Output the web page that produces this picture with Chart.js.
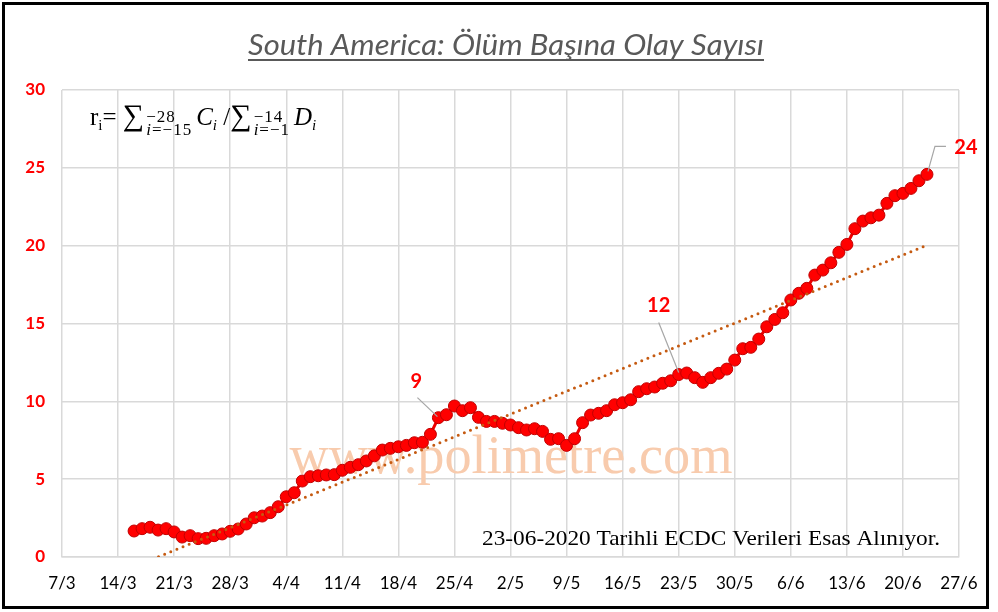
<!DOCTYPE html>
<html>
<head>
<meta charset="utf-8">
<script src="https://cdn.jsdelivr.net/npm/chart.js@4.4.1/dist/chart.umd.min.js"></script>
<style>
html,body{margin:0;padding:0;background:#fff;}
#wrap{position:relative;width:998px;height:612px;overflow:hidden;}
canvas{display:block;}
#formula{position:absolute;left:90px;top:99px;font-family:"Liberation Serif",serif;font-size:25px;line-height:32px;color:#000;white-space:nowrap;}
#formula sub{font-size:15px;vertical-align:-5px;line-height:0;}
#formula .sum{font-size:30px;}
#formula .lim{display:inline-block;vertical-align:-10px;font-size:17px;line-height:13px;margin:0 4px 0 2px;letter-spacing:1px;}
#formula .lim span{display:block;}
</style>
</head>
<body>
<div id="wrap">
<canvas id="c" width="998" height="612"></canvas>
<div id="formula">r<sub>i</sub>= <span class="sum">∑</span><span class="lim"><span>−28</span><span><i>i</i>=−15</span></span><i>C<sub>i</sub></i> /<span class="sum">∑</span><span class="lim"><span>−14</span><span><i>i</i>=−1</span></span><i>D<sub>i</sub></i></div>
</div>
<script>
// ---- data ----
const TITLE = 'South America: Ölüm Başına Olay Sayısı';
const FOOTER = '23-06-2020 Tarihli ECDC Verileri Esas Alınıyor.';
const WATERMARK = 'www.polimetre.com';
const xTickLabels = ['7/3','14/3','21/3','28/3','4/4','11/4','18/4','25/4','2/5','9/5','16/5','23/5','30/5','6/6','13/6','20/6','27/6'];
const yTicks = [0,5,10,15,20,25,30];
const firstDay = 9; // 16/3 counted in days from 7/3
const values = [1.67,1.82,1.91,1.73,1.82,1.61,1.28,1.37,1.18,1.20,
  1.37,1.48,1.65,1.80,2.12,2.52,2.63,2.85,3.23,3.87,
  4.13,4.88,5.16,5.22,5.27,5.29,5.57,5.76,5.93,6.17,
  6.50,6.87,6.98,7.08,7.17,7.34,7.37,7.88,8.95,9.14,
  9.70,9.40,9.59,8.97,8.71,8.71,8.59,8.48,8.31,8.16,
  8.24,8.07,7.56,7.60,7.17,7.60,8.63,9.12,9.23,9.40,
  9.78,9.91,10.10,10.62,10.81,10.92,11.16,11.32,11.72,11.82,
  11.52,11.22,11.52,11.80,12.07,12.65,13.38,13.47,14.00,14.79,
  15.26,15.69,16.51,16.94,17.26,18.11,18.43,18.90,19.57,20.08,
  21.09,21.58,21.79,21.96,22.72,23.21,23.36,23.68,24.17,24.58];
const trendDays = [9, 108];
const trendValues = [-0.62, 20.03];
const labelIndex = [38, 68, 99];
const labelText = ['9', '12', '24'];

// ---- build ----
const points = values.map((v, i) => ({x: firstDay + i, y: v}));
const trend = trendDays.map((d, i) => ({x: d, y: trendValues[i]}));

const labelStyle = [
  {dx: -22, dy: -36, line: [[-21, -20], [-1, -1]]},
  {dx: -20, dy: -69, line: [[-20, -52], [0, -2]]},
  {dx: 39, dy: -27, line: [[1, -3], [8, -28], [19, -28]]}
];

function fitText(ctx, text, x, y, width, align) {
  const w = ctx.measureText(text).width;
  const sx = width / w;
  ctx.save();
  ctx.translate(x, y);
  ctx.scale(sx, 1);
  ctx.textAlign = align;
  ctx.fillText(text, 0, 0);
  ctx.restore();
}

const decor = {
  id: 'decor',
  beforeDatasetsDraw(chart) {
    const ctx = chart.ctx;
    ctx.save();
    ctx.fillStyle = '#F8CBAD';
    ctx.font = '54px "Liberation Serif"';
    ctx.textBaseline = 'alphabetic';
    fitText(ctx, WATERMARK, 511, 473, 443, 'center');
    ctx.restore();
  },
  afterDatasetsDraw(chart) {
    const ctx = chart.ctx;
    const meta = chart.getDatasetMeta(1);
    ctx.save();
    labelIndex.forEach((idx, k) => {
      const p = meta.data[idx];
      const st = labelStyle[k];
      ctx.strokeStyle = '#A6A6A6';
      ctx.lineWidth = 1.2;
      ctx.beginPath();
      st.line.forEach((o, j) => {
        if (j === 0) ctx.moveTo(p.x + o[0], p.y + o[1]);
        else ctx.lineTo(p.x + o[0], p.y + o[1]);
      });
      ctx.stroke();
      ctx.fillStyle = '#FF0000';
      ctx.font = 'bold 20px Lato';
      ctx.textAlign = 'center';
      ctx.textBaseline = 'middle';
      ctx.fillText(labelText[k], p.x + st.dx, p.y + st.dy);
    });
    ctx.restore();
  },
  afterDraw(chart) {
    const ctx = chart.ctx;
    ctx.save();
    // title
    ctx.fillStyle = '#595959';
    ctx.font = 'italic 28px Lato';
    ctx.textBaseline = 'alphabetic';
    fitText(ctx, TITLE, 506, 55, 516, 'center');
    ctx.fillRect(248, 59, 516, 2);
    // footer
    ctx.fillStyle = '#000';
    ctx.font = '22px "Liberation Serif"';
    fitText(ctx, FOOTER, 940, 545, 458, 'right');
    // frame
    ctx.strokeStyle = '#000';
    ctx.lineWidth = 3;
    ctx.strokeRect(3.5, 3.5, 984, 604);
    ctx.restore();
  }
};

new Chart(document.getElementById('c'), {
  type: 'line',
  data: {
    datasets: [
      {
        label: 'Trend',
        data: trend,
        borderColor: '#C55A11',
        borderWidth: 3,
        borderDash: [0, 6.6],
        borderCapStyle: 'round',
        pointRadius: 0,
        fill: false,
        order: 0
      },
      {
        label: 'South America',
        data: points,
        borderColor: '#EE0000',
        borderWidth: 3,
        pointRadius: 6,
        pointBackgroundColor: '#FF0000',
        pointBorderColor: '#C00000',
        pointBorderWidth: 1,
        fill: false,
        tension: 0,
        order: 1
      }
    ]
  },
  options: {
    responsive: false,
    animation: false,
    devicePixelRatio: 1,
    layout: {padding: {top: 90, right: 39, bottom: 0, left: 0}},
    plugins: {legend: {display: false}, tooltip: {enabled: false}},
    scales: {
      x: {
        type: 'linear',
        min: 0, max: 112,
        afterFit(s) { s.height = 55; },
        ticks: {
          stepSize: 7, maxTicksLimit: 20, autoSkip: false, maxRotation: 0,
          padding: 16, color: '#000',
          font: {family: 'Lato', size: 17},
          callback: (v) => xTickLabels[Math.round(v / 7)]
        },
        grid: {color: '#D9D9D9', lineWidth: 1.5, drawTicks: false},
        border: {display: true, color: '#D9D9D9', width: 1.5}
      },
      y: {
        min: 0, max: 30,
        afterFit(s) { s.width = 62; },
        afterBuildTicks(s) { s.ticks = yTicks.map(v => ({value: v})); },
        ticks: {
          padding: 17, color: '#FF0000',
          font: {family: 'Lato', size: 17, weight: 'bold'}
        },
        grid: {color: '#D9D9D9', lineWidth: 1.5, drawTicks: false},
        border: {display: false}
      }
    }
  },
  plugins: [decor]
});
</script>
</body>
</html>
